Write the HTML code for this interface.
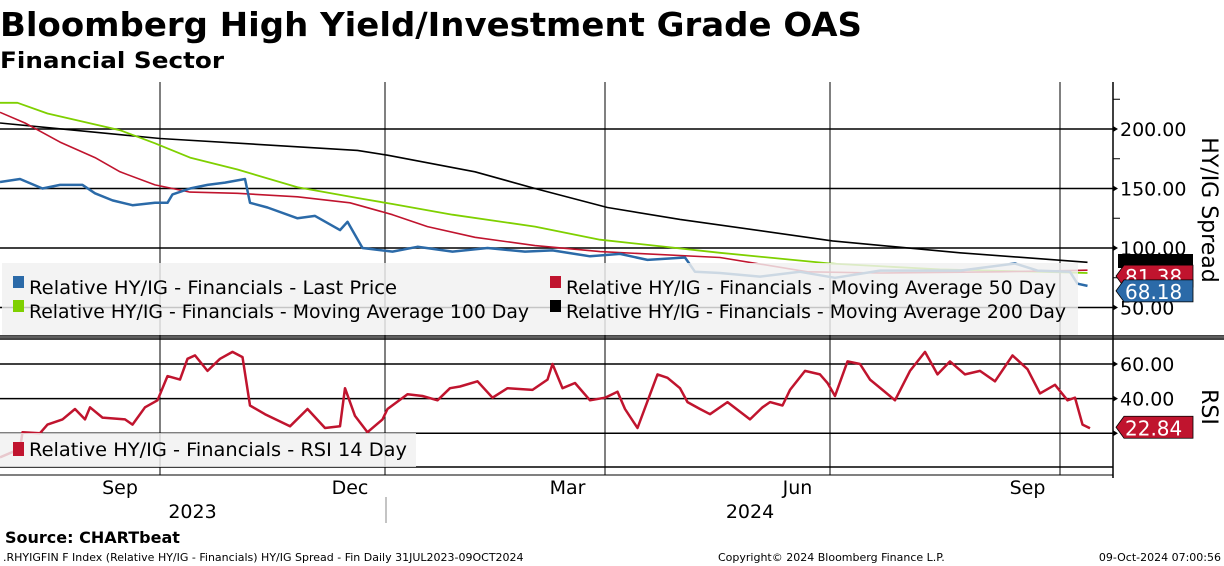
<!DOCTYPE html>
<html><head><meta charset="utf-8"><style>
html,body{margin:0;padding:0;background:#fff;width:1224px;height:566px;overflow:hidden}
svg{display:block}
text{font-family:"DejaVu Sans","Liberation Sans",sans-serif}
</style></head><body>
<svg id="chart" width="1224" height="566" viewBox="0 0 1224 566">
<text x="0" y="36" font-size="33" font-weight="bold" textLength="862" lengthAdjust="spacingAndGlyphs">Bloomberg High Yield/Investment Grade OAS</text>
<text x="0" y="68" font-size="22" font-weight="bold" textLength="224" lengthAdjust="spacingAndGlyphs">Financial Sector</text>
<g id="grid"></g>
<g id="series"></g>
<g id="overlay"></g>
</svg>
<script>
// ---- data (day offsets from 31 Jul 2023) ----
const monthLabels = ["Sep","Dec","Mar","Jun","Sep"];
const monthLabelDays = [48,140,227,319,411];
const gridDays = [64,154,242,332,424];
const yearLabels = ["2023","2024"];
const yearLabelDays = [77,300];
const spreadTicks = [50,100,150,200];
const rsiTicks = [20,40,60];

const lastDays = [0,8,17,24,33,38,45,53,62,67,69,76,83,90,98,100,107,119,126,136,139,145,157,167,181,195,210,221,236,248,259,274,278,288,304,320,334,352,368,384,406,415,428,431,435];
const lastVals = [155.5,158,150,153,153,146,140,136,138,138,145,150,153,155,158,138,134,125,127,115,122,100,97,101,97,100,97,98,93,95,90,92,80,79,76,80,75,81,81,81,87,81,80,70,68.18];
const ma50Days = [0,10,24,38,48,62,76,95,119,140,157,171,190,214,240,288,323,352,400,435];
const ma50Vals = [214,205,189,176,164,153,147,146,143,138,128,118,109,102,97,92,80,79,80,81.38];
const ma100Days = [0,7,19,48,62,76,95,119,143,157,181,214,240,288,332,376,435];
const ma100Vals = [222,222,213,199,188,176,166,151,142,137,128,118,107,96,87,82,79];
const ma200Days = [0,64,143,155,190,214,243,272,333,384,435];
const ma200Vals = [205,192,182,178,164,150,134,124,106,96,88];
const rsiDays = [0,8,9,16,19,25,30,34,36,41,50,53,58,63,67,72,75,78,83,88,93,97,100,106,116,123,130,136,138,142,147,153,155,163,169,175,180,184,191,197,203,213,219,221,225,230,236,242,247,250,255,263,267,272,275,280,284,291,300,305,308,313,316,322,328,331,334,339,344,348,353,358,364,370,375,380,386,392,398,405,411,416,422,427,430,433,436];
const rsiVals = [6,11,20.6,20,25,28,34,28,35,29,28,25,35,39,53,51,63,65,56,63,67,64,36,31,24,34,23,24,46,30,20.6,28,34,42.5,41.5,39,46,47,50,40.5,46,45,51,60,46,49,39,40.5,44,34,23,54,52,46,38,34,31,38,28,35,38,36,45,56,54,49,41.5,61.5,60,51,45,39,56,67,54,61.5,54,56,50,65,57,43,48,39,40.5,25,22.84];

// ---- scales ----
const x = d => d * 2.5;
const yS = v => 129 + (200 - v) * 1.19;
const yR = v => 364 + (60 - v) * 1.73;
const NS = "http://www.w3.org/2000/svg";
function mk(parent, tag, attrs){const e=document.createElementNS(NS,tag);for(const k in attrs)e.setAttribute(k,attrs[k]);parent.appendChild(e);return e;}
const grid=document.getElementById('grid'), ser=document.getElementById('series'), ov=document.getElementById('overlay');

// panels
mk(grid,'rect',{x:0,y:335,width:1224,height:5,fill:'#444'});
mk(grid,'line',{x1:0,y1:337,x2:1224,y2:337,stroke:'#777','stroke-width':1});
mk(grid,'line',{x1:1113,y1:82,x2:1113,y2:478,stroke:'#000','stroke-width':1.5});
mk(grid,'line',{x1:0,y1:467,x2:1113,y2:467,stroke:'#000','stroke-width':1.5});
mk(grid,'line',{x1:0,y1:475,x2:1113,y2:475,stroke:'#000','stroke-width':1});
gridDays.forEach(d=>{
  const l=mk(grid,'line',{x1:x(d),y1:82,x2:x(d),y2:475,stroke:'#000','stroke-width':1});
  
  
});
spreadTicks.forEach(v=>{
  mk(grid,'line',{x1:0,y1:yS(v),x2:1113,y2:yS(v),stroke:'#000','stroke-width':1.5});
  mk(grid,'path',{d:`M1113 ${yS(v)-3} l5 3 l-5 3z`,fill:'#000'});
  const t=mk(grid,'text',{x:1120,y:yS(v)+7,'font-size':19});
  t.textContent=v.toFixed(2);
  
  
});
[175,125,75,225].forEach(v=>mk(grid,'line',{x1:1113,y1:yS(v),x2:1120,y2:yS(v),stroke:'#000'}));
rsiTicks.forEach(v=>{
  mk(grid,'line',{x1:0,y1:yR(v),x2:1113,y2:yR(v),stroke:'#000','stroke-width':1.5});
  mk(grid,'path',{d:`M1113 ${yR(v)-3} l5 3 l-5 3z`,fill:'#000'});
  if(v>20){const t=mk(grid,'text',{x:1120,y:yR(v)+7,'font-size':19});
  t.textContent=v.toFixed(2);
  
  }
});

function line(days,vals,ys,color,w,name){
  const p=mk(ser,'path',{d:days.map((d,i)=>(i?'L':'M')+x(d).toFixed(1)+' '+ys(vals[i]).toFixed(1)).join(' '),fill:'none',stroke:color,'stroke-width':w,'stroke-linejoin':'round'});
  
  
}
line(ma200Days,ma200Vals,yS,'#000',1.6,'ma200-line');
line(ma100Days,ma100Vals,yS,'#7fd000',1.8,'ma100-line');
line(ma50Days,ma50Vals,yS,'#c0142e',1.6,'ma50-line');
line(lastDays,lastVals,yS,'#2b6aa8',2.5,'last-price-line');
line(rsiDays,rsiVals,yR,'#c0142e',2.5,'rsi-line');

// legends
const lg=mk(ov,'rect',{x:2,y:263,width:1076,height:72,fill:'#f0f0f0','fill-opacity':0.82});


const entries=[[13,288,'#2b6aa8','Relative HY/IG - Financials - Last Price',368],[550,288,'#c0142e','Relative HY/IG - Financials - Moving Average 50 Day',490],[13,312,'#7fd000','Relative HY/IG - Financials - Moving Average 100 Day',500],[550,312,'#000','Relative HY/IG - Financials - Moving Average 200 Day',500]];
entries.forEach(e=>{
  mk(ov,'rect',{x:e[0],y:e[1]-12,width:11,height:12,fill:e[2]});
  const t=mk(ov,'text',{x:e[0]+16,y:e[1]+6,'font-size':19,textLength:e[4],lengthAdjust:'spacingAndGlyphs'});
  t.textContent=e[3];
  
  
});
const lr=mk(ov,'rect',{x:0,y:433,width:416,height:34,fill:'#f0f0f0','fill-opacity':0.82});


mk(ov,'rect',{x:13,y:442,width:11,height:14,fill:'#c0142e'});
const rt=mk(ov,'text',{x:29,y:456,'font-size':19,textLength:378,lengthAdjust:'spacingAndGlyphs'});
rt.textContent='Relative HY/IG - Financials - RSI 14 Day';



// value tags
function tag(yc,color,label){
  const g=mk(ov,'g',{});
  mk(g,'path',{d:`M1116 ${yc} l8 -11 h69 v22 h-69z`,fill:color,stroke:'#000','stroke-width':0.8});
  if(label){const t=mk(g,'text',{x:1125,y:yc+8,'font-size':20,fill:'#fff'});t.textContent=label;}
  
  
}
mk(ov,'rect',{x:1118,y:254,width:75,height:14,fill:'#000'});
tag(yS(81.38)+6,'#c0142e','81.38');
tag(yS(68.18)+5,'#2b6aa8','68.18');
tag(yR(22.84)-1,'#c0142e','22.84');

const a1=mk(ov,'text',{transform:'translate(1202,210) rotate(90)','font-size':22,'text-anchor':'middle'});
a1.textContent='HY/IG Spread';


const a2=mk(ov,'text',{transform:'translate(1202,407) rotate(90)','font-size':22,'text-anchor':'middle'});
a2.textContent='RSI';



monthLabels.forEach((m,i)=>{
  const t=mk(ov,'text',{x:x(monthLabelDays[i]),y:494,'font-size':19,'text-anchor':'middle'});
  t.textContent=m;
  
  
});
yearLabels.forEach((m,i)=>{
  const t=mk(ov,'text',{x:x(yearLabelDays[i]),y:518,'font-size':19,'text-anchor':'middle'});
  t.textContent=m;
  
  
});
mk(ov,'line',{x1:386,y1:497,x2:386,y2:523,stroke:'#888'});
const s=mk(ov,'text',{x:5,y:543,'font-size':16,'font-weight':'bold'});
s.textContent='Source: CHARTbeat';


[[3,'.RHYIGFIN F Index (Relative HY/IG - Financials) HY/IG Spread - Fin  Daily 31JUL2023-09OCT2024','start'],[718,'Copyright© 2024 Bloomberg Finance L.P.','start'],[1221,'09-Oct-2024 07:00:56','end']].forEach(f=>{
  const t=mk(ov,'text',{x:f[0],y:561,'font-size':11,'text-anchor':f[2]});
  t.textContent=f[1];
  
  
});
</script>
</body></html>
